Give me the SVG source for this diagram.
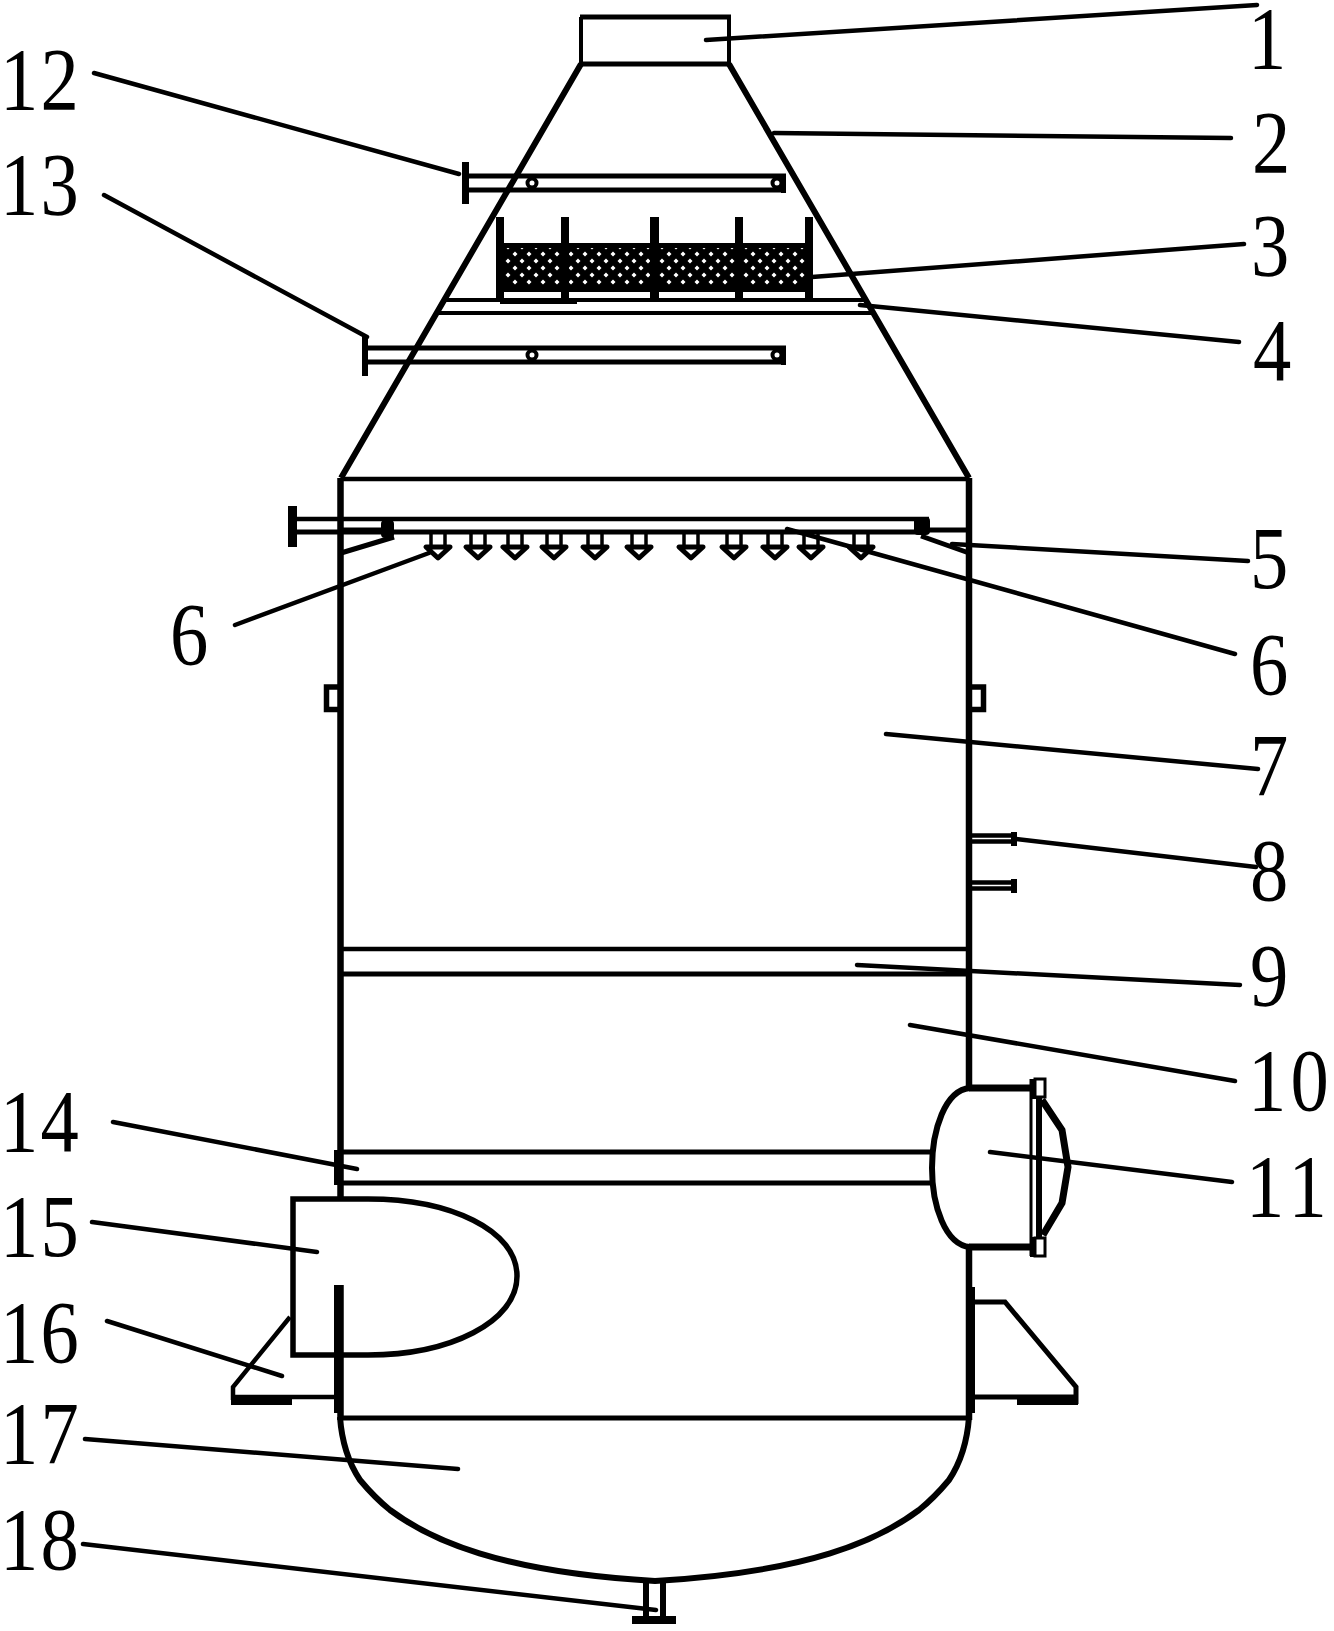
<svg xmlns="http://www.w3.org/2000/svg" width="1334" height="1631" viewBox="0 0 1334 1631">
<style>
.l{fill:none;stroke:#000;stroke-width:5}
.w{fill:none;stroke:#000;stroke-width:6.5}
.b{fill:#000}
.leader{fill:none;stroke:#000;stroke-width:4.5;stroke-linecap:round}
text{font-family:"Liberation Serif","Times New Roman",serif;font-size:88px;fill:#000}
</style>
<defs>
<pattern id="mesh" patternUnits="userSpaceOnUse" x="501" y="251" width="14" height="14">
<rect width="14" height="14" fill="#000"/>
<path d="M0 .5L2.5 3L0 5.5ZM14 .5L11.5 3L14 5.5ZM7 7.5L9.5 10L7 12.5L4.5 10Z" fill="#fff"/>
</pattern>
<g id="nz">
<path d="M-7 532V545M7 532V545" class="l" style="stroke-width:3.5"/>
<path d="M-12 547H12L0 558Z" class="l" stroke-linejoin="round"/>
</g>
<g id="pp">
<path d="M0 0H321M0 14H321" class="l"/>
<rect x="316" y="-2" width="5" height="19" class="b"/>
<circle cx="67" cy="7" r="4.5" fill="#fff" stroke="#000" stroke-width="4"/>
<circle cx="312" cy="7" r="4.5" fill="#fff" stroke="#000" stroke-width="4"/>
</g>
</defs>
<rect width="1334" height="1631" fill="#fff"/>

<g id="outlet-1"><path d="M581 17V64H729V17" class="l" style="stroke-width:4"/><path d="M580 17H731" class="l"/><path d="M581 64H729" class="l"/></g>
<g id="cone-2"><path d="M581 64L341 478M729 64L969 478" class="w" style="stroke-width:6"/><path d="M341 479H969" class="l" style="stroke-width:4.5"/></g>
<g id="pipe-12"><use href="#pp" x="465" y="176"/><rect x="462" y="162" width="7" height="42" class="b"/></g>
<g id="pipe-13"><use href="#pp" x="465" y="348"/><path d="M366 348H465M366 362H465" class="l"/><rect x="362" y="337" width="6" height="39" class="b"/></g>
<g id="packing-3">
<rect x="496" y="243" width="317" height="49" fill="url(#mesh)"/>
<rect x="496" y="243" width="317" height="5" class="b"/>
<rect x="496" y="285" width="317" height="7" class="b"/>
<rect x="496" y="217" width="8" height="84" class="b"/><rect x="561" y="217" width="8" height="84" class="b"/><rect x="650" y="217" width="9" height="84" class="b"/><rect x="735" y="217" width="8" height="84" class="b"/><rect x="805" y="217" width="8" height="84" class="b"/>
<rect x="500" y="300" width="77" height="4" class="b"/>
</g>
<g id="plate-4"><path d="M444 300H866M437 313H873" class="l" style="stroke-width:4"/></g>
<g id="spray-5">
<rect x="288" y="506" width="9" height="41" class="b"/>
<path d="M292 519H929" class="l" style="stroke-width:4.5"/>
<path d="M292 532H918M925 530H969" class="l"/>
<path d="M343 530H385" class="l" style="stroke-width:5"/>
<rect x="381" y="520" width="13" height="18" rx="4" class="b"/>
<rect x="914" y="517" width="16" height="18" rx="4" class="b"/>
<path d="M341 553L394 537M921 536L969 553" class="l"/>
</g>
<g id="nozzles-6">
<use href="#nz" x="438"/><use href="#nz" x="478"/><use href="#nz" x="515"/><use href="#nz" x="554"/><use href="#nz" x="595"/><use href="#nz" x="639"/><use href="#nz" x="691"/><use href="#nz" x="734"/><use href="#nz" x="775"/><use href="#nz" x="811"/><use href="#nz" x="861"/>
</g>
<g id="shell-7">
<path d="M340.500 478V1197M969 478V1088M969 1247V1300M340.500 1285V1420M969 1290V1420" class="w"/>
<rect x="334" y="1285" width="9" height="128" class="b"/>
<rect x="966" y="1287" width="9" height="126" class="b"/>
<path d="M341 687H326.500V709.500H341" class="l" style="stroke-width:5.500"/>
<path d="M969 687H983.500V709.500H969" class="l" style="stroke-width:5.500"/>
<path d="M341 1418H969" class="l"/>
</g>
<g id="stubs-8">
<path d="M969 835.500H1012M969 841.500H1012M969 882.500H1012M969 888.500H1012" class="l" style="stroke-width:4.500"/>
<rect x="1011" y="832" width="6" height="14" class="b"/>
<rect x="1011" y="879" width="6" height="14" class="b"/>
</g>
<g id="layer-9"><path d="M341 949H969" class="l" style="stroke-width:4.500"/><path d="M341 974H969" class="l"/></g>
<g id="chamber-10"></g>
<g id="manhole-11">
<path d="M969 1088H1030M969 1247H1030" class="w" style="stroke-width:7"/>
<path d="M970 1088C945 1090 932 1130 932 1168C932 1205 945 1245 970 1247" class="w" style="stroke-width:6"/>
<path d="M1031 1079V1256" class="l" style="stroke-width:3"/>
<rect x="1030" y="1079" width="7" height="20" class="b"/><rect x="1030" y="1237" width="7" height="20" class="b"/>
<rect x="1035" y="1079" width="10" height="18" fill="#fff" stroke="#000" stroke-width="3"/>
<rect x="1035" y="1238" width="10" height="18" fill="#fff" stroke="#000" stroke-width="3"/>
<rect x="1036" y="1097" width="6" height="141" class="b"/>
<path d="M1042 1100L1062 1130L1068 1167L1062 1203L1043 1235" class="w" style="stroke-width:7"/>
</g>
<g id="layer-14">
<path d="M341 1152H933M341 1183H933" class="l"/>
<rect x="334" y="1150" width="9" height="35" class="b"/>
</g>
<g id="inlet-15">
<path d="M293 1199H368C450 1199 517 1230 517 1276C517 1322 450 1355 368 1355H293Z" class="l" style="stroke-width:5.500"/>
</g>
<g id="supports-16">
<path d="M290 1317L233 1387V1400M233 1397H336" class="l" style="stroke-width:4.500"/>
<rect x="231" y="1397" width="61" height="8" class="b"/>
<path d="M975 1302H1005L1076 1387V1404M975 1397H1078" class="l"/>
<rect x="1017" y="1397" width="61" height="8" class="b"/>
</g>
<g id="head-17"><path d="M340 1417C342 1445 350 1465 360 1480C370 1492 380 1502 390 1510C430 1540 500 1572 655 1581C810 1572 879 1540 919 1510C929 1502 939 1492 949 1480C959 1465 967 1445 969 1417" class="w" style="stroke-width:6"/></g>
<g id="drain-18">
<path d="M646 1580V1618M663 1580V1618" class="w" style="stroke-width:6"/>
<rect x="632" y="1616" width="44" height="8" class="b"/>
</g>

<g id="connectors">
<path class="leader" d="M706 40L1257 5"/>
<path class="leader" d="M774 133L1231 138"/>
<path class="leader" d="M812 277L1244 244"/>
<path class="leader" d="M860 305L1239 342"/>
<path class="leader" d="M952 544L1248 561"/>
<path class="leader" d="M429 553L235 625"/>
<path class="leader" d="M787 529L1235 654"/>
<path class="leader" d="M886 734L1258 769"/>
<path class="leader" d="M1016 839L1256 867"/>
<path class="leader" d="M857 965L1240 985"/>
<path class="leader" d="M910 1025L1235 1081"/>
<path class="leader" d="M990 1152L1232 1182"/>
<path class="leader" d="M94 73L459 174"/>
<path class="leader" d="M104 195L367 337"/>
<path class="leader" d="M113 1122L357 1169"/>
<path class="leader" d="M92 1222L317 1252"/>
<path class="leader" d="M107 1321L282 1376"/>
<path class="leader" d="M85 1439L458 1469"/>
<path class="leader" d="M83 1544L656 1610"/>
</g>

<g id="labels">
<text transform="translate(1248 68) scale(.87 1)">1</text>
<text transform="translate(1252 172) scale(.87 1)">2</text>
<text transform="translate(1251 275) scale(.87 1)">3</text>
<text transform="translate(1253 380) scale(.87 1)">4</text>
<text transform="translate(1250 588) scale(.87 1)">5</text>
<text transform="translate(170 664) scale(.87 1)">6</text>
<text transform="translate(1250 694) scale(.87 1)">6</text>
<text transform="translate(1250 795) scale(.87 1)">7</text>
<text transform="translate(1250 900) scale(.87 1)">8</text>
<text transform="translate(1250 1005) scale(.87 1)">9</text>
<text transform="translate(1248 1110) scale(.87 1)" x="0 48.800">10</text>
<text transform="translate(1246 1216) scale(.87 1)" x="0 48.800">11</text>
<text transform="translate(0 109) scale(.87 1)" x="0 46.600">12</text>
<text transform="translate(0 214) scale(.87 1)" x="0 46.600">13</text>
<text transform="translate(0 1151) scale(.87 1)" x="0 46.600">14</text>
<text transform="translate(0 1256) scale(.87 1)" x="0 46.600">15</text>
<text transform="translate(0 1362) scale(.87 1)" x="0 46.600">16</text>
<text transform="translate(0 1463) scale(.87 1)" x="0 46.600">17</text>
<text transform="translate(0 1569) scale(.87 1)" x="0 46.600">18</text>
</g>
</svg>
